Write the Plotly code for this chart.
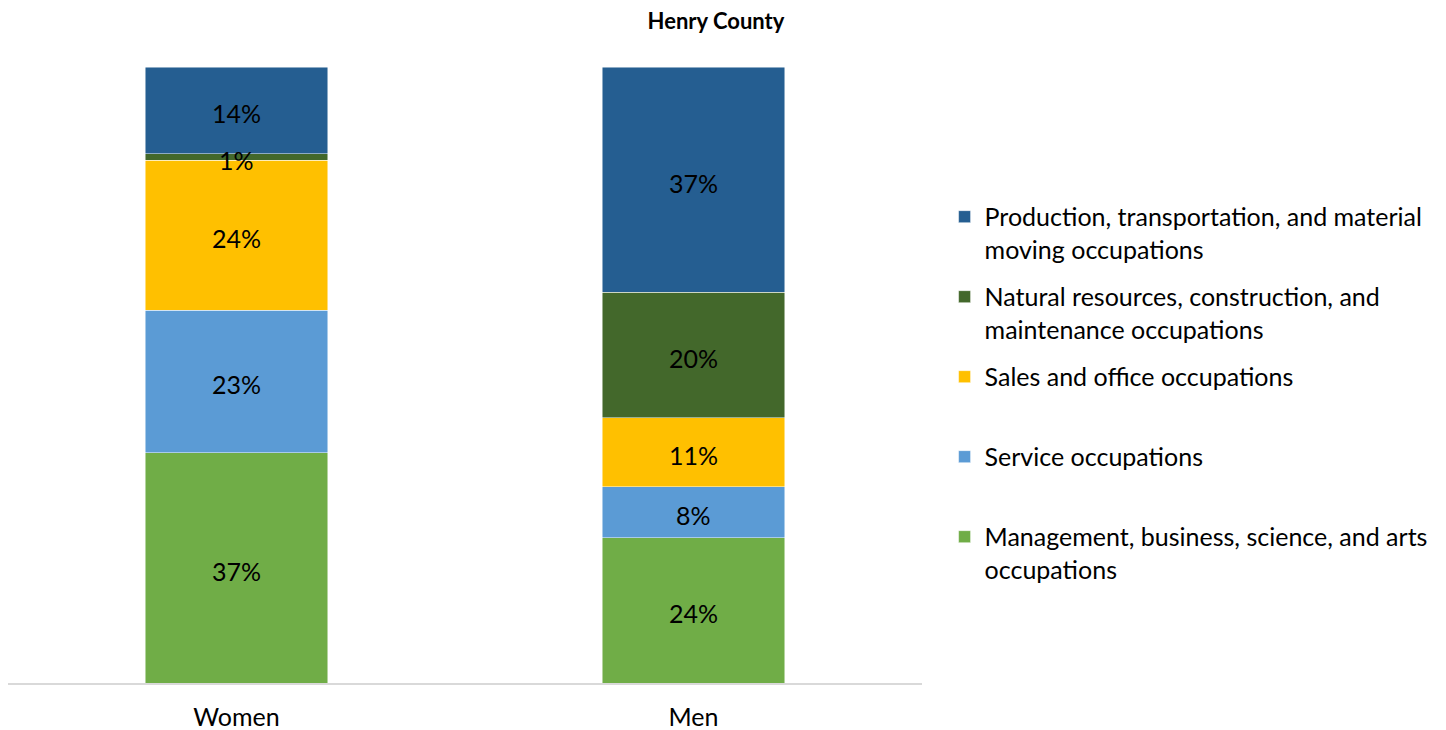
import plotly.graph_objects as go

categories = ["Women", "Men"]
series_names = [
    "Management, business, science, and arts<br>occupations",
    "Service occupations<br> ",
    "Sales and office occupations<br> ",
    "Natural resources, construction, and<br>maintenance occupations",
    "Production, transportation, and material<br>moving occupations",
]
management = [37.4, 23.6]
service = [23.1, 8.3]
sales = [24.4, 11.2]
natural = [1.0, 20.3]
production = [14.1, 36.6]
series_values = [management, service, sales, natural, production]
colors = ["#70AD47", "#5B9BD5", "#FFC000", "#43682B", "#255E91"]

FONT = "Lato"
W, H = 1438, 722  # page body keeps an 8px margin

fig = go.Figure()
n = len(series_names)
for i, (name, vals, col) in enumerate(zip(series_names, series_values, colors)):
    fig.add_trace(go.Bar(
        x=categories, y=vals, name=name,
        marker=dict(color=col, line=dict(color="rgba(255,255,255,0.6)", width=0.8)),
        width=0.4, legendgroup=f"g{i}", legendrank=n - i, hoverinfo="skip",
    ))

# data labels at the middle of each stacked segment
annotations = []
for ci, cat in enumerate(categories):
    base = 0.0
    for vals in series_values:
        v = vals[ci]
        annotations.append(dict(
            x=cat, y=base + v / 2, xref="x", yref="y", text=f"{v:.0f}%",
            showarrow=False, yshift=-3, xanchor="center", yanchor="middle",
            font=dict(family=FONT, size=25, color="#000000"),
        ))
        base += v

fig.update_layout(
    width=W, height=H,
    barmode="stack",
    paper_bgcolor="white", plot_bgcolor="white",
    margin=dict(l=0, r=524, t=59, b=47, autoexpand=False),
    title=dict(text="<b>Henry County</b>", x=708 / W, xref="container", xanchor="center",
               y=1 - 13 / H, yref="container", yanchor="middle",
               font=dict(family=FONT, size=22, color="#000000")),
    font=dict(family=FONT, color="#000000"),
    annotations=annotations,
    xaxis=dict(range=[-0.5, 1.5], showline=True, linecolor="#D9D9D9", linewidth=1.5,
               ticks="", showgrid=False, zeroline=False, automargin=False,
               tickfont=dict(family=FONT, size=25, color="#000000"), ticklabelstandoff=11),
    yaxis=dict(range=[0, 100], visible=False, showgrid=False, zeroline=False, automargin=False),
    showlegend=True,
    legend=dict(x=1.0247, xanchor="left", y=0.794, yanchor="top", traceorder="grouped",
                valign="top", tracegroupgap=12,
                font=dict(family=FONT, size=25, color="#000000"), bgcolor="rgba(0,0,0,0)"),
)
fig.write_html("out.html")
